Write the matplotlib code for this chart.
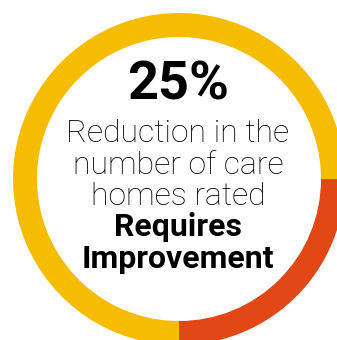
import matplotlib.pyplot as plt

# share of care homes no longer rated Requires Improvement
shares = [25, 75]
colors = ["#E14816", "#F5BC00"]
headline = "25%"
body_lines = ["Reduction in the", "number of care", "homes rated"]
bold_lines = ["Requires", "Improvement"]

fig = plt.figure(figsize=(3.37, 3.40), dpi=100)
ax = fig.add_axes([0, 0, 1, 1])

ax.pie(shares, colors=colors, center=(179, 161), radius=166,
       startangle=0, counterclock=False,
       wedgeprops=dict(width=24, linewidth=0))

ax.set_xlim(0, 337)
ax.set_ylim(0, 340)
ax.set_aspect("equal")
ax.axis("off")

ax.text(178, 340 - 100, headline, ha="center", va="baseline",
        fontsize=39, fontweight="bold", family="Roboto")

y = 340 - 142
for line in body_lines:
    ax.text(178, y, line, ha="center", va="baseline",
            fontsize=23, fontweight="light", family="Roboto")
    y -= 31.5
for line in bold_lines:
    ax.text(178, y, line, ha="center", va="baseline",
            fontsize=23, fontweight="bold", family="Roboto")
    y -= 31.5

fig.savefig("out.png", dpi=100)
